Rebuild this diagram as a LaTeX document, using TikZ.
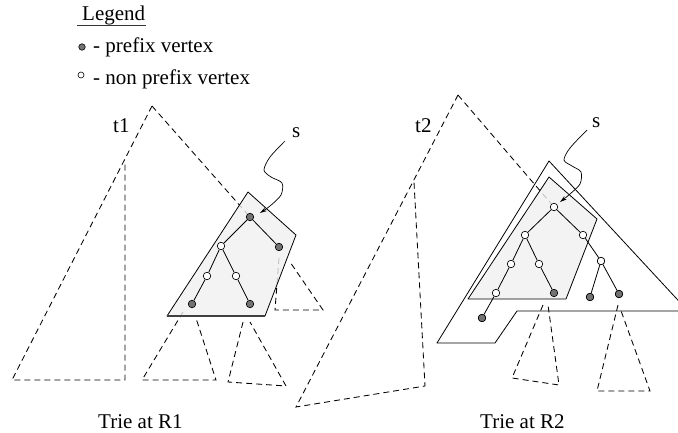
\documentclass[tikz,border=0pt]{standalone}
\usepackage{fontspec}
\setmainfont{Liberation Serif}
\usetikzlibrary{arrows.meta}
\begin{document}
\begin{tikzpicture}[x=1pt,y=-1pt,
  txt/.style={anchor=base west, inner sep=0pt, font=\fontsize{21}{25}\selectfont},
  pv/.style={circle, draw, fill=black!55, minimum size=7.5pt, inner sep=0pt, line width=0.6pt},
  nv/.style={circle, draw, fill=white, minimum size=7.5pt, inner sep=0pt, line width=0.6pt},
  dsh/.style={dash pattern=on 6pt off 4pt, line width=0.85pt},
  edge/.style={line width=0.8pt},
  poly/.style={draw, line width=0.8pt, fill=black!6, fill opacity=0.8, line join=round},
  outl/.style={draw, line width=0.8pt, line join=round},
  wave/.style={line width=0.7pt, -{Stealth[length=7pt,width=4pt]}}
]
\clip (0,0) rectangle (678,433);

% ---------- Legend ----------
\node[txt] (leg) at (82,21) {Legend};
\draw[line width=0.8pt, black!80] (77,25) -- (146,25);
\node[pv, minimum size=6.5pt] (ld1) at (82,47) {};
\node[txt] (lt1) at (93,53) {- prefix vertex};
\node[nv, minimum size=6pt] (ld2) at (81,75) {};
\node[txt] (lt2) at (93,85) {- non prefix vertex};

% ---------- Tree 1 vertex positions ----------
\coordinate (t1apex) at (152,106);
\node[pv] (a1) at (250,217) {};
\node[pv] (a2) at (279,247) {};
\node[nv] (a3) at (221,246) {};
\node[nv] (a4) at (207,276) {};
\node[nv] (a5) at (236,276) {};
\node[pv] (a6) at (192,304) {};
\node[pv] (a7) at (250,304) {};

% t1 triangle (dashed)
\draw[dsh] (t1apex) -- (12,380) -- (125,380) -- (125,163);
\draw[dsh] (t1apex) -- (a1);
% subtrees of tree 1
\draw[dsh] (279,258) -- (275,310) -- (323,310) -- (290,262);
\draw[dsh] (183,312) -- (142,380) -- (216,380) -- (195,315);
\draw[dsh] (243,322) -- (228,382) -- (286,386) -- (250,322);

% shaded region 1
\path[poly] (248,192) -- (296,235) -- (265,316) -- (167,316) -- cycle;
\draw[line width=1.1pt, black!75] (167,316) -- (265,316);

% tree 1 edges
\draw[edge] (a1) -- (a2);
\draw[edge] (a1) -- (a3);
\draw[edge] (a3) -- (a4);
\draw[edge] (a3) -- (a5);
\draw[edge] (a4) -- (a6);
\draw[edge] (a5) -- (a7);
\foreach \n in {a1,a2,a6,a7} {\node[pv] at (\n) {};}
\foreach \n in {a3,a4,a5} {\node[nv] at (\n) {};}

% labels tree 1
\node[txt] (t1lab) at (113,133) {t1};
\node[txt] (s1lab) at (292,138) {s};
\coordinate (s1w) at (285,141);
\coordinate (s1e) at (260,213);
\draw[wave] plot[smooth] coordinates {(s1w) (270,157) (264,170) (271,177) (282,183) (281,195) (270,206) (s1e)};

% ---------- Tree 2 ----------
\coordinate (t2apex) at (458,95);
\node[nv] (b1) at (554,207) {};
\node[nv] (b2) at (525,235) {};
\node[nv] (b3) at (583,235) {};
\node[nv] (b4) at (511,264) {};
\node[nv] (b5) at (539,264) {};
\node[nv] (b6) at (601,261) {};
\node[nv] (b7) at (496,293) {};
\node[pv] (b8) at (554,293) {};
\node[pv] (b9) at (590,297) {};
\node[pv] (b10) at (619,294) {};
\node[pv] (b11) at (482,318) {};

% t2 triangle (dashed)
\draw[dsh] (t2apex) -- (296,407) -- (425,386) -- (414,182);
\draw[dsh] (t2apex) -- (b1);
% subtrees of tree 2
\draw[dsh] (543,305) -- (512,378) -- (559,385) -- (548,305);
\draw[dsh] (618,305) -- (597,391) -- (650,391) -- (620,308);

% outer region 2
\path[outl] (549,161) -- (688,311) -- (517,311) -- (495,343) -- (437,343) -- cycle;
% shaded region 2
\path[poly] (549,177) -- (597,219) -- (566,299) -- (468,299) -- cycle;

% tree 2 edges
\draw[edge] (b1) -- (b2);
\draw[edge] (b1) -- (b3);
\draw[edge] (b2) -- (b4);
\draw[edge] (b2) -- (b5);
\draw[edge] (b3) -- (b6);
\draw[edge] (b4) -- (b7);
\draw[edge] (b5) -- (b8);
\draw[edge] (b6) -- (b9);
\draw[edge] (b6) -- (b10);
\draw[edge] (b7) -- (b11);
\foreach \n in {b1,b2,b3,b4,b5,b6,b7} {\node[nv] at (\n) {};}
\foreach \n in {b8,b9,b10,b11} {\node[pv] at (\n) {};}

% labels tree 2
\node[txt] (t2lab) at (415,133) {t2};
\node[txt] (s2lab) at (592,128) {s};
\coordinate (s2w) at (587,130);
\coordinate (s2e) at (560,202);
\draw[wave] plot[smooth] coordinates {(s2w) (570,148) (564,160) (572,166) (581,172) (580,184) (570,194) (s2e)};

% captions
\node[txt] (cap1) at (98,428) {Trie at R1};
\node[txt] (cap2) at (480,428) {Trie at R2};
\end{tikzpicture}
\end{document}
